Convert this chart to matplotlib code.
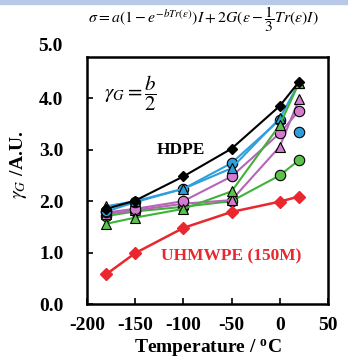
import matplotlib
matplotlib.use("Agg")
import matplotlib.pyplot as plt
from matplotlib.patches import Rectangle

# === DATA ===
temps = [-180, -150, -100, -50, 0, 20]
hdpe = [1.85, 2.01, 2.48, 3.02, 3.85, 4.32]
blue_circ = [1.80, 1.98, 2.24, 2.74, 3.58]
blue_circ_20 = 3.35
blue_tri = [1.90, 2.00, 2.24, 2.64, 3.61, 4.30]
mag_circ = [1.78, 1.85, 2.00, 2.48, 3.32, 3.76]
mag_tri = [1.75, 1.82, 1.95, 2.02, 3.06, 3.98]
green_circ = [1.71, 1.80, 1.89, 2.00, 2.50, 2.80]
green_tri = [1.56, 1.68, 1.85, 2.19, 3.48, 4.30]
uhmwpe = [0.58, 0.99, 1.48, 1.79, 1.99, 2.09]

BLUE = "#2f9fdc"
MAG = "#b565b8"
MAG_FILL = "#d27ccf"
GREEN = "#3fb23a"
GREEN_FILL = "#5cc24a"
RED = "#e8282e"

plt.rcParams["mathtext.fontset"] = "stix"
serif = ["Liberation Serif", "DejaVu Serif"]

fig = plt.figure(figsize=(3.48, 3.62), dpi=100)
ax = fig.add_axes([0.25, 0.16, 0.6925, 0.6825])

ms = 7.5
kw = dict(markeredgecolor="black", markeredgewidth=0.8, lw=1.5, markersize=ms)

ax.plot(temps, green_circ, "-o", color=GREEN, markerfacecolor=GREEN_FILL, **kw)
ax.plot(temps, mag_tri, "-^", color=MAG, markerfacecolor=MAG_FILL, **kw)
ax.plot(temps, mag_circ, "-o", color=MAG, markerfacecolor=MAG_FILL, **kw)
ax.plot(temps[:5], blue_circ, "-o", color=BLUE, markerfacecolor=BLUE, **kw)
ax.plot([temps[5]], [blue_circ_20], "o", color=BLUE, markerfacecolor=BLUE, **kw)
ax.plot(temps, blue_tri, "-^", color=BLUE, markerfacecolor=BLUE, **kw)
ax.plot(temps, green_tri, "-^", color=GREEN, markerfacecolor=GREEN_FILL, **kw)
ax.plot(temps, hdpe, "-D", color="black", markerfacecolor="black",
        markeredgecolor="black", lw=1.5, markersize=5.5)
ax.plot(temps, uhmwpe, "-D", color=RED, markerfacecolor=RED,
        markeredgecolor=RED, lw=1.8, markersize=6)

ax.set_xlim(-200, 50)
ax.set_ylim(0, 4.8)
ax.set_xticks([-200, -150, -100, -50, 0, 50])
ax.set_yticks([0, 1, 2, 3, 4])
ax.set_xticklabels(["-200", "-150", "-100", "-50", "0", "50"])
ax.set_yticklabels(["0.0", "1.0", "2.0", "3.0", "4.0"])
for lab in ax.get_xticklabels() + ax.get_yticklabels():
    lab.set_family(serif)
    lab.set_fontweight("bold")
    lab.set_fontsize(14)
ax.text(-0.1, 5.0, "5.0", transform=ax.get_yaxis_transform(), ha="right",
        va="center", family=serif, fontweight="bold", fontsize=14, clip_on=False)
ax.tick_params(direction="in", length=4, width=1.2)
ax.tick_params(axis="y", pad=17)
ax.tick_params(axis="x", pad=9)
for s in ax.spines.values():
    s.set_linewidth(1.8)

ax.set_xlabel("Temperature / $\\mathregular{^o}$C", family=serif,
              fontweight="bold", fontsize=14, labelpad=3)
fig.text(0.052, 0.545, r"$\gamma_G$ /A.U.", rotation=90, family=serif,
         fontweight="bold", fontsize=14, va="center", ha="center")

ax.text(-182, 4.0, r"$\gamma_G = \dfrac{b}{2}$", fontsize=15)
ax.text(-128, 2.92, "HDPE", family=serif, fontweight="bold", fontsize=12.5)
ax.text(-123, 0.85, "UHMWPE (150M)", family=serif, fontweight="bold",
        fontsize=12.5, color=RED)

fig.text(0.585, 0.948,
         r"$\sigma = a(1-e^{-bTr(\varepsilon)})I + 2G(\varepsilon-\dfrac{1}{3}Tr(\varepsilon)I)$",
         ha="center", va="center", fontsize=11.3)

# light blue strip at the top of the source image
fig.patches.append(Rectangle((0, 0.99), 1, 0.01, transform=fig.transFigure,
                             color="#b8c8e8", zorder=0))

fig.savefig("out.png", dpi=100)
